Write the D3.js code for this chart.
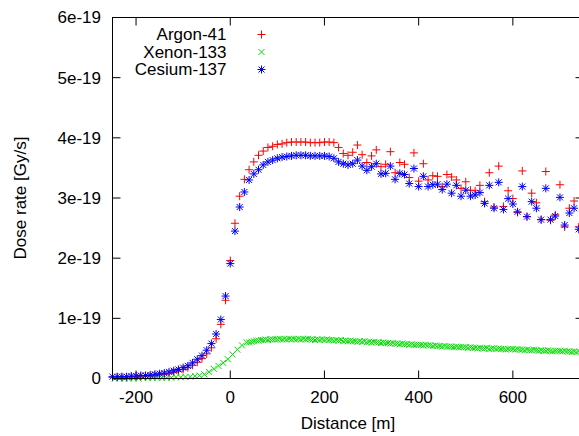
<!DOCTYPE html>
<html>
<head>
<meta charset="utf-8">
<script src="https://cdn.jsdelivr.net/npm/d3@7"></script>
<style>
  body { margin: 0; background: #ffffff; }
  svg { display: block; font-family: "Liberation Sans", Arial, Helvetica, sans-serif; }
</style>
</head>
<body>
<div id="chart"></div>
<script>
// dose rate values are in units of 1e-19 Gy/s

const seriesNames = ["Argon-41", "Xenon-133", "Cesium-137"];
const seriesColors = ["#ff0000", "#00e000", "#0000ff"];

const yTicks = [0, 1, 2, 3, 4, 5, 6];
const yTickLabels = ["0", "1e-19", "2e-19", "3e-19", "4e-19", "5e-19", "6e-19"];
const xTicks = [-200, 0, 200, 400, 600];

// Argon-41 and Cesium-137 sampled every 10 m from -250 to 740
const gridDist = d3.range(-250, 741, 10);

const argon = [
  0.02, 0.02, 0.02, 0.02, 0.03, 0.03, 0.03, 0.04, 0.04, 0.05,
  0.06, 0.07, 0.08, 0.10, 0.12, 0.15, 0.18, 0.22, 0.27, 0.33,
  0.41, 0.51, 0.66, 0.90, 1.30, 1.96, 2.58, 3.03, 3.31, 3.47,
  3.60, 3.71, 3.78, 3.84, 3.86, 3.89, 3.90, 3.92, 3.93, 3.93,
  3.93, 3.93, 3.92, 3.92, 3.92, 3.93, 3.93, 3.92, 3.84, 3.74,
  3.71, 3.76, 3.88, 3.72, 3.59, 3.70, 3.80, 3.52, 3.56, 3.77,
  3.42, 3.59, 3.56, 3.34, 3.75, 3.28, 3.57, 3.30, 3.37, 3.36,
  3.19, 3.39, 3.35, 3.30, 3.16, 3.27, 3.13, 3.12, 3.21, 2.94,
  3.42, 2.85, 3.53, 2.86, 3.12, 2.99, 2.76, 3.45, 2.69, 3.08,
  2.92, 2.64, 3.44, 2.63, 2.72, 3.22, 2.52, 2.83, 2.95, 2.52
];

const cesium = [
  0.03, 0.03, 0.03, 0.03, 0.04, 0.04, 0.05, 0.05, 0.06, 0.07,
  0.08, 0.09, 0.11, 0.13, 0.15, 0.18, 0.21, 0.26, 0.32, 0.38,
  0.47, 0.58, 0.74, 0.98, 1.37, 1.91, 2.45, 2.85, 3.10, 3.30,
  3.40, 3.47, 3.55, 3.60, 3.63, 3.66, 3.68, 3.69, 3.70, 3.71,
  3.71, 3.71, 3.70, 3.70, 3.70, 3.70, 3.69, 3.66, 3.60, 3.57,
  3.55, 3.57, 3.63, 3.53, 3.46, 3.52, 3.57, 3.40, 3.41, 3.53,
  3.31, 3.41, 3.39, 3.24, 3.49, 3.19, 3.36, 3.19, 3.22, 3.23,
  3.14, 3.23, 3.08, 3.21, 3.03, 3.13, 3.03, 3.05, 3.09, 2.91,
  3.21, 2.83, 3.26, 2.81, 2.99, 2.90, 2.77, 3.19, 2.69, 2.94,
  2.83, 2.64, 3.16, 2.64, 2.70, 3.01, 2.55, 2.75, 2.83, 2.48
];

// Xenon-133: every 10 m on the rise (-245..35), every 5 m after (40..740)
const xenonDist = d3.range(-245, 36, 10).concat(d3.range(40, 741, 5));

const xenon = [
  0.00, 0.00, 0.00, 0.00, 0.00, 0.00, 0.01, 0.01, 0.01, 0.01,
  0.01, 0.01, 0.015, 0.02, 0.02, 0.025, 0.03, 0.04, 0.05, 0.07,
  0.11, 0.16, 0.21, 0.26, 0.32, 0.40, 0.48, 0.55, 0.60,
  0.60, 0.61, 0.62, 0.63, 0.63, 0.64, 0.64, 0.65, 0.64, 0.65, 0.65, 0.65,
  0.65, 0.66, 0.65, 0.66, 0.65, 0.66, 0.65, 0.66, 0.65, 0.66, 0.65, 0.66, 0.65, 0.66, 0.65, 0.65, 0.64, 0.65, 0.64, 0.65,
  0.64, 0.65, 0.64, 0.64, 0.63, 0.64, 0.63, 0.64, 0.62, 0.63, 0.62, 0.63, 0.62, 0.62, 0.61, 0.62, 0.61, 0.62, 0.60, 0.61,
  0.60, 0.61, 0.60, 0.60, 0.59, 0.60, 0.59, 0.59, 0.58, 0.59, 0.58, 0.58, 0.57, 0.58, 0.57, 0.57, 0.56, 0.57, 0.56, 0.56,
  0.56, 0.56, 0.55, 0.56, 0.55, 0.55, 0.54, 0.55, 0.54, 0.54, 0.53, 0.54, 0.53, 0.53, 0.53, 0.52, 0.53, 0.52, 0.52, 0.52,
  0.52, 0.51, 0.52, 0.51, 0.51, 0.50, 0.51, 0.50, 0.50, 0.51, 0.49, 0.50, 0.50, 0.49, 0.50, 0.49, 0.49, 0.48, 0.49, 0.49,
  0.49, 0.48, 0.49, 0.48, 0.48, 0.47, 0.48, 0.47, 0.47, 0.48, 0.47, 0.46, 0.47, 0.46, 0.46, 0.47, 0.46, 0.45, 0.46, 0.46,
  0.46, 0.45, 0.46, 0.45, 0.45, 0.44, 0.45, 0.44, 0.45
];

// gnuplot-like point shapes
const plusPath = "M-4,0H4M0,-4V4";
const crossPath = "M-3,-3L3,3M-3,3L3,-3";
const starPath = "M-4,0H4M0,-4V4M-3,-3L3,3M-3,3L3,-3";
const markers = [plusPath, crossPath, starPath];

function init() {
    const width = 579, height = 436;
    const left = 112.5, right = 583.5, top = 17.5, bottom = 378.5;

    const svg = d3.select("#chart")
        .append("svg")
        .attr("width", width)
        .attr("height", height);

    const x = d3.scaleLinear().domain([-250, 750]).range([left, right]);
    const y = d3.scaleLinear().domain([0, 6]).range([bottom, top]);

    // ticks on all four sides, pointing inward
    const tickLen = 8;
    const axes = svg.append("g").attr("stroke", "#000").attr("stroke-width", 1);

    yTicks.forEach(function(t) {
        axes.append("line").attr("x1", left).attr("x2", left + tickLen)
            .attr("y1", y(t)).attr("y2", y(t));
        axes.append("line").attr("x1", right).attr("x2", right - tickLen)
            .attr("y1", y(t)).attr("y2", y(t));
    });
    xTicks.forEach(function(t) {
        axes.append("line").attr("x1", x(t)).attr("x2", x(t))
            .attr("y1", bottom).attr("y2", bottom - tickLen);
        axes.append("line").attr("x1", x(t)).attr("x2", x(t))
            .attr("y1", top).attr("y2", top + tickLen);
    });

    svg.append("g")
        .selectAll("text")
        .data(yTicks)
        .enter().append("text")
        .attr("x", left - 11.5)
        .attr("y", function(d) { return y(d); })
        .attr("dy", "0.35em")
        .attr("text-anchor", "end")
        .attr("font-size", "17px")
        .attr("fill", "#000")
        .text(function(d, i) { return yTickLabels[i]; });

    svg.append("g")
        .selectAll("text")
        .data(xTicks)
        .enter().append("text")
        .attr("x", function(d) { return x(d); })
        .attr("y", bottom + 18.5)
        .attr("dy", "0.35em")
        .attr("text-anchor", "middle")
        .attr("font-size", "17px")
        .attr("fill", "#000")
        .text(function(d) { return d; });

    svg.append("text")
        .attr("x", (left + right) / 2)
        .attr("y", 423)
        .attr("dy", "0.35em")
        .attr("text-anchor", "middle")
        .attr("font-size", "17px")
        .text("Distance [m]");

    svg.append("text")
        .attr("transform", "translate(20," + ((top + bottom) / 2) + ") rotate(-90)")
        .attr("dy", "0.35em")
        .attr("text-anchor", "middle")
        .attr("font-size", "17px")
        .text("Dose rate [Gy/s]");

    // points
    const sets = [
        gridDist.map(function(d, i) { return [d, argon[i]]; }),
        xenonDist.map(function(d, i) { return [d, xenon[i]]; }),
        gridDist.map(function(d, i) { return [d, cesium[i]]; })
    ];

    sets.forEach(function(pts, s) {
        svg.append("g")
            .selectAll("path")
            .data(pts)
            .enter().append("path")
            .attr("d", markers[s])
            .attr("transform", function(d) { return "translate(" + x(d[0]) + "," + y(d[1]) + ")"; })
            .attr("fill", "none")
            .attr("stroke", seriesColors[s])
            .attr("stroke-width", 1);
    });

    // legend
    const legend = svg.append("g");
    seriesNames.forEach(function(name, i) {
        const ly = 34.5 + i * 17.5;
        legend.append("text")
            .attr("x", 226.5)
            .attr("y", ly)
            .attr("dy", "0.35em")
            .attr("text-anchor", "end")
            .attr("font-size", "17px")
            .text(name);
        legend.append("path")
            .attr("d", markers[i])
            .attr("transform", "translate(261.5," + ly + ")")
            .attr("fill", "none")
            .attr("stroke", seriesColors[i])
            .attr("stroke-width", 1);
    });

    // border
    svg.append("rect")
        .attr("x", left).attr("y", top)
        .attr("width", right - left).attr("height", bottom - top)
        .attr("fill", "none")
        .attr("stroke", "#000")
        .attr("stroke-width", 1);
}

init();
</script>
</body>
</html>
